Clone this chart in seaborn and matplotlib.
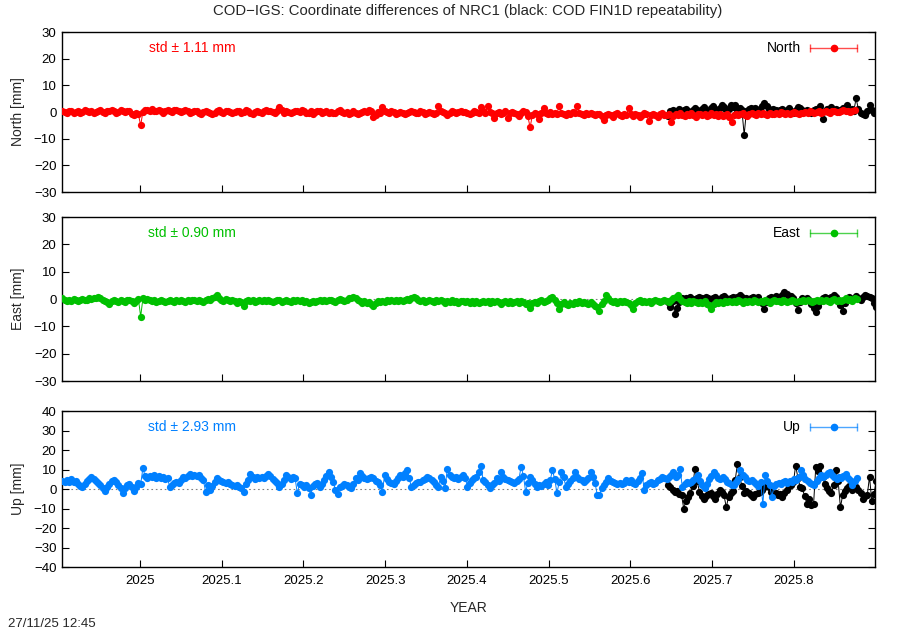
import numpy as np
import pandas as pd
import seaborn as sns
import matplotlib.pyplot as plt

# daily coordinate differences COD-IGS [mm], first day 2024.905
north = [0.3,0.1,-0.4,0.2,0.5,-0.2,0.0,0.4,-0.3,0.1,0.6,0.2,-0.1,0.3,-0.5,0.0,0.4,0.7,0.1,-0.2,0.3,0.5,0.9,0.2,-0.3,0.1,0.6,0.3,-0.1,0.4,
         0.2,-0.6,-1.2,-0.4,-0.9,-5.0,0.1,0.6,0.9,0.4,1.0,0.5,0.2,0.7,0.3,-0.2,0.5,0.8,0.3,0.1,0.6,0.9,0.4,0.0,0.3,0.7,0.2,-0.3,0.1,0.5,
         0.2,-0.2,-0.6,0.0,0.4,0.1,-0.3,-0.8,-0.2,0.3,0.6,0.1,-0.4,0.2,0.5,0.0,-0.5,-0.1,0.4,0.2,-0.3,0.1,0.6,0.3,-0.2,-0.6,0.0,0.4,0.1,-0.3,
         0.2,0.6,0.3,0.5,0.1,-0.3,0.3,1.9,0.7,-0.2,0.4,0.1,-0.5,0.0,0.5,0.3,-0.1,0.6,0.2,-0.4,-0.2,0.2,-0.6,0.1,0.5,0.2,-0.3,0.0,0.4,-0.2,
         -0.1,-0.5,-0.2,0.3,0.6,0.1,-0.4,0.0,-0.7,-0.2,0.2,-0.3,-0.8,-0.4,0.1,0.4,0.0,0.9,0.2,-2.0,-1.2,-0.1,-0.4,1.8,0.5,0.1,-0.3,0.2,-0.1,-0.6,
         -0.3,0.1,-0.2,-0.7,-0.4,0.0,0.3,-0.1,-0.5,-0.2,0.2,-0.1,-0.6,-0.3,0.1,-0.4,-0.8,-0.2,2.3,0.4,0.1,-0.3,-1.0,-0.5,0.2,-0.1,-0.4,0.0,0.5,0.1,
         0.1,-0.3,-0.7,-0.2,0.3,0.0,-0.4,1.7,0.2,-0.2,2.1,-0.1,-0.5,-2.4,-0.3,0.0,-0.6,-0.2,0.3,-2.2,-0.4,0.1,-0.3,-0.8,-1.5,-0.5,0.2,-0.1,-1.6,-5.8,
         -1.2,-0.4,-0.9,-2.5,-0.2,1.4,-0.3,-0.6,-0.1,-0.8,-0.3,-0.6,2.2,-0.2,-0.7,-1.1,-0.4,-0.8,0.1,-0.5,2.3,-0.2,-0.6,-1.2,-0.5,-0.9,-0.3,-0.8,-1.3,-0.6,
         -0.8,-1.5,-3.0,-1.2,-0.6,-1.0,-1.8,-0.9,-0.4,-1.1,-1.5,-0.7,-1.3,1.4,-0.8,-1.4,-0.6,-1.0,-1.7,-1.2,-0.5,-0.9,-3.4,-1.1,-0.6,-1.3,-1.8,-0.8,-0.3,-1.0,
         -1.2,-0.7,-3.8,-1.5,-0.9,-1.3,-0.4,-1.0,-1.6,-0.8,-1.2,-0.5,-1.1,-1.7,-0.9,-0.6,-1.3,-0.8,-1.5,-1.0,-0.4,-1.2,-0.7,-1.4,-0.9,-1.6,-1.1,-0.6,-1.8,-3.6,
         -1.0,-0.6,-1.3,-0.8,-0.4,-1.1,-1.5,-0.7,-0.3,-0.9,-1.2,-0.5,-0.8,-0.2,-0.7,-1.0,-0.4,-0.6,-0.9,-0.3,-0.7,-0.1,-0.5,-0.8,-0.2,-0.6,-0.3,0.1,-0.4,-0.7,
         -0.2,-0.5,0.0,-0.3,0.2,-0.1,-0.4,0.1,0.3,-0.2,0.0,0.4,0.1,-0.3,0.2,0.5,0.1,-0.1,0.3,0.6,0.2,0.4,0.0,0.3,0.7]

east = [0.4,-0.3,-0.8,-0.2,-0.6,0.1,-0.4,-0.9,-0.3,0.0,
        -0.5,-0.2,0.3,-0.1,0.5,0.2,0.9,0.4,-0.2,-0.7,
        -1.2,-2.0,-0.8,-0.3,-0.6,-1.0,-0.4,-0.7,-1.1,-0.5,
        -0.2,-0.8,-1.3,-0.6,-0.1,-6.4,0.2,-0.3,0.1,-0.5,
        -0.9,-0.4,-1.1,-0.6,-0.2,-0.7,-1.2,-0.8,-0.3,-0.6,
        -1.0,-0.5,-0.9,-0.3,-0.6,-1.1,-0.4,-0.8,-0.2,-0.5,
        -0.9,-0.3,-0.7,-1.2,-0.5,-0.1,-0.4,0.2,0.6,1.3,
        0.5,-0.2,-0.6,-0.1,-0.5,-0.9,-0.4,-0.8,-1.3,-0.6,
        -1.1,-2.7,-0.8,-0.4,-0.9,-0.5,-1.0,-0.6,-0.2,-0.7,
        -0.4,-0.8,-0.3,-0.9,-1.2,-0.6,-0.2,-0.5,-1.0,-0.7,
        -0.3,-0.6,-1.1,-0.5,-0.8,-0.4,-0.9,-0.5,-1.2,-0.8,
        -1.4,-1.0,-0.6,-1.1,-0.7,-0.3,-0.8,-0.4,-0.9,-0.5,
        -0.2,-0.6,-1.0,-0.5,-0.1,-0.4,-0.8,-0.3,0.3,0.5,
        0.9,0.3,-0.4,-0.8,-1.3,-0.7,-1.5,-1.1,-1.9,-2.7,
        -1.4,-0.8,-1.2,-0.6,-1.0,-0.5,-0.9,-0.4,-0.8,-0.3,
        -0.6,-0.2,-0.7,-0.3,0.1,-0.4,0.3,0.9,0.2,-0.3,
        -0.7,-0.4,-1.0,-0.6,-0.2,-0.7,-1.1,-0.5,-0.9,-0.4,
        -0.8,-1.3,-0.7,-1.0,-0.5,-1.2,-0.8,-1.4,-0.9,-0.6,
        -1.1,-0.7,-1.5,-0.9,-1.3,-0.8,-1.6,-1.0,-0.6,-1.2,
        -0.8,-1.4,-0.9,-1.2,-0.7,-1.1,-1.7,-1.0,-0.6,-1.3,
        -0.9,-1.5,-1.1,-0.7,-1.3,-0.8,-1.2,-1.9,-1.4,-3.1,
        -1.6,-1.0,-1.4,-0.8,-0.5,-1.1,-0.6,-0.2,0.4,0.9,
        -0.4,-1.5,-3.6,-1.8,-1.2,-1.7,-2.2,-1.3,-1.8,-1.0,
        -1.5,-0.9,-1.4,-1.0,-1.6,-2.0,-1.2,-1.7,-2.4,-3.0,
        -4.2,-1.8,-0.9,1.3,0.2,-0.6,-1.1,-0.7,-1.3,-0.8,
        -1.2,-0.6,-1.0,-1.5,-2.1,-3.6,-1.4,-0.9,-0.5,-1.0,
        -0.6,-1.1,-0.7,-1.3,-0.9,-0.4,-0.8,-1.2,-0.6,-0.3,
        -0.7,-1.0,-0.5,0.2,0.7,1.3,-0.1,-0.6,-1.0,-1.4,
        -0.9,-1.3,-0.8,-1.2,-1.6,-1.0,-1.4,-0.9,-1.7,-2.3,
        -3.6,-1.8,-1.2,-1.6,-1.0,-1.3,-0.8,-1.2,-0.7,-1.1,
        -0.6,-1.0,-0.5,-0.9,-1.3,-0.8,-1.1,-0.6,-1.0,-0.4,
        -0.8,-1.2,-0.7,-1.1,-0.5,-0.9,-1.3,-0.8,-0.4,-0.9,
        -0.6,-1.0,-0.5,-0.8,-1.2,-0.7,-0.3,-0.8,-1.1,-0.6,
        -0.9,-0.4,-0.8,-0.3,-0.7,-1.1,-0.6,-0.2,-0.7,-0.4,
        -0.8,-0.3,-0.6,-1.0,-0.5,-0.1,-0.6,-0.3,-0.7,-0.2,
        0.2,-0.4,-0.1,-0.6,0.3,0.1]

up = [4.2,3.6,4.5,3.8,4.9,3.5,4.1,2.8,1.6,1.0,
      2.4,3.9,5.2,6.1,5.0,4.2,3.1,1.8,0.6,-0.9,
      0.8,2.5,3.9,4.8,3.6,2.2,0.5,-1.8,0.3,1.9,
      2.6,1.2,-0.8,0.9,3.1,2.4,10.8,6.5,5.8,6.9,
      6.2,7.1,5.6,6.8,5.9,6.4,5.1,5.5,1.0,2.3,
      3.2,3.6,2.9,4.5,6.0,5.4,6.8,7.7,6.9,7.3,
      6.5,7.0,5.8,4.6,-1.3,2.0,-0.5,1.6,3.8,5.5,
      4.8,4.0,3.6,2.9,3.5,2.8,2.1,1.4,2.0,0.9,
      0.5,-1.3,2.6,4.8,7.7,6.2,5.3,6.0,5.5,6.4,
      5.9,6.8,7.7,6.6,5.2,4.1,3.3,1.0,2.7,4.5,
      7.0,6.1,5.2,6.0,5.4,-2.0,2.8,1.9,1.0,2.3,
      0.7,-3.0,1.5,2.4,3.2,1.0,2.6,4.5,6.8,8.5,
      6.0,3.6,-0.3,-2.5,0.8,1.6,2.7,2.0,1.1,0.3,
      2.4,5.5,4.6,8.0,6.7,5.5,4.9,5.8,6.3,5.4,
      4.2,3.4,2.1,-1.3,7.2,5.0,3.8,2.9,2.7,4.1,
      5.8,7.0,6.2,8.1,9.5,5.4,1.0,2.2,3.0,3.6,
      3.6,4.5,5.2,6.3,5.7,4.6,3.4,2.2,1.0,6.3,
      4.1,0.3,10.5,7.2,6.3,5.5,6.0,5.1,6.4,7.0,
      5.9,1.0,3.1,4.7,5.6,6.3,8.5,12.0,4.6,3.4,
      2.1,0.3,1.8,3.2,5.5,4.1,8.5,6.2,5.0,4.6,
      4.0,3.6,2.9,4.2,5.1,11.5,6.8,-1.3,3.0,6.3,
      4.4,2.6,1.0,2.1,1.6,2.7,3.5,2.0,4.8,9.5,
      5.1,-2.0,3.4,8.5,6.0,1.0,2.8,4.1,5.6,8.5,
      6.2,5.0,4.6,3.8,4.4,5.9,8.5,6.1,3.2,-3.0,
      -3.0,0.5,2.0,3.4,5.5,4.3,3.6,2.9,2.7,3.3,
      2.4,3.1,4.6,3.8,4.5,3.2,2.6,3.9,5.4,8.0,
      -0.5,1.8,2.9,3.6,2.5,3.1,4.4,5.2,6.3,5.7,
      4.9,6.1,7.0,8.5,6.2,7.4,10.5,1.0,2.6,3.8,
      3.0,3.6,4.8,5.9,7.0,4.2,1.9,0.3,2.8,5.1,
      6.7,8.5,7.1,5.8,5.0,6.3,5.1,3.8,3.0,2.0,
      2.0,3.5,5.2,9.5,7.0,6.1,4.8,3.9,4.4,3.6,
      2.8,1.5,3.4,-7.7,7.0,4.1,2.2,-4.0,1.3,2.6,
      3.1,2.4,3.6,4.2,3.0,4.1,3.5,5.0,4.6,6.2,
      9.5,7.1,5.3,4.0,3.3,2.6,2.0,4.1,5.5,7.0,
      6.4,7.3,8.0,8.5,7.2,6.1,5.0,6.2,5.5,6.6,
      7.5,5.8,4.4,2.0,3.9,5.5]

# COD FIN1D repeatability [mm], first day 2025.646
north_rep = [-1.6,0.2,0.8,-0.5,0.4,1.1,-0.2,0.6,1.3,0.3,
             -0.4,0.9,1.5,0.7,0.2,1.2,1.8,0.9,0.4,1.6,
             2.1,1.0,0.5,1.4,2.6,1.7,0.8,1.2,2.7,1.9,
             2.8,0.9,1.5,0.6,-8.6,0.4,1.2,1.5,0.8,1.4,
             0.6,1.1,2.2,3.4,2.2,1.0,0.4,1.3,0.7,-0.3,
             0.6,1.1,0.2,0.9,1.6,0.5,-0.2,0.8,2.0,1.4,
             0.7,0.1,0.9,0.4,-0.5,0.6,1.2,0.3,2.2,-2.6,
             0.5,1.1,0.2,2.0,0.7,1.2,0.4,0.9,1.5,0.6,
             2.7,0.8,1.3,0.4,5.1,1.2,-0.3,-0.9,-1.0,0.2,
             2.6,0.8,-0.4,0.5]

east_rep = [-1.2,-3.0,-0.8,-5.3,-3.1,-1.0,0.2,-0.5,0.4,-0.2,
            0.6,0.1,-0.4,0.5,0.9,0.2,-0.3,0.7,0.3,-0.6,
            0.4,0.8,0.1,-0.5,0.6,1.0,0.3,-0.2,0.5,0.9,
            0.2,0.7,1.4,0.8,0.1,0.5,-0.3,0.4,0.9,0.2,
            0.6,-0.8,-1.6,-3.8,-1.1,0.3,0.8,0.2,1.1,0.5,
            0.9,1.5,2.6,1.8,0.7,1.2,0.4,-1.5,-4.0,-1.2,
            0.3,-0.5,0.5,-0.4,-1.8,-3.2,-4.8,-2.5,-0.6,0.2,
            0.7,-0.2,0.4,0.9,1.4,0.6,-0.8,-2.1,-4.2,-1.5,
            0.1,0.6,-0.3,0.5,1.0,0.3,-0.4,0.8,1.3,1.0,
            0.9,0.4,-1.6,-2.8]

up_rep = [2.0,0.8,-0.5,-1.4,-0.8,-2.5,-3.1,-10.0,-6.2,-4.0,
          -2.2,1.5,10.5,4.0,-1.3,-3.6,-5.0,-3.8,-2.5,-2.0,
          -3.4,-5.0,-2.8,-0.5,-1.7,-3.2,-9.4,-4.1,-2.0,-1.2,
          4.6,13.0,6.2,1.5,-2.0,-0.8,-1.9,-3.0,-4.0,-2.6,
          -1.9,-1.3,-0.4,0.8,2.0,0.9,-1.5,-3.0,-2.2,-3.3,
          -2.6,-4.0,-1.8,-0.7,1.4,2.1,3.6,12.0,5.8,1.2,
          0.3,-3.6,-7.5,-5.1,-8.4,-7.9,11.5,9.0,12.0,6.4,
          2.5,0.3,-1.1,-2.0,1.8,9.5,4.0,-9.4,-3.2,-1.0,
          0.3,1.6,-0.5,2.4,1.1,-0.5,-2.0,-5.0,-3.8,-3.0,
          6.3,-6.0,-2.5,4.0]

components = ["North", "East", "Up"]
stds = [1.11, 0.90, 2.93]
colors = ["#ff0000", "#00c000", "#0080ff"]
ylims = [(-30, 30), (-30, 30), (-40, 40)]
start_main = 2024.905
start_rep = 2025.646
xticks = [2025.0, 2025.1, 2025.2, 2025.3, 2025.4, 2025.5, 2025.6, 2025.7, 2025.8]
xlabels = ["2025", "2025.1", "2025.2", "2025.3", "2025.4", "2025.5", "2025.6", "2025.7", "2025.8"]

sns.set_style("ticks")
plt.rcParams["font.family"] = ["Liberation Sans", "DejaVu Sans"]
plt.rcParams["font.size"] = 9.5

fig = plt.figure(figsize=(9, 6.3), dpi=100)
rects = [[0.0689, 0.6952, 0.9033, 0.2540],
         [0.0689, 0.3952, 0.9033, 0.2603],
         [0.0689, 0.1000, 0.9033, 0.2476]]

series = [(north, north_rep), (east, east_rep), (up, up_rep)]

for i, name in enumerate(components):
    ax = fig.add_axes(rects[i])
    vals, rep = series[i]
    df = pd.DataFrame({"year": start_main + np.arange(len(vals)) / 365.25, "mm": vals})
    df_rep = pd.DataFrame({"year": start_rep + np.arange(len(rep)) / 365.25, "mm": rep})

    ax.axhline(0, color="gray", ls=(0, (1.5, 2.5)), lw=0.8, zorder=0)
    sns.lineplot(data=df_rep, x="year", y="mm", color="black", marker="o", markersize=5.2,
                 markeredgewidth=0, lw=0.7, ax=ax, zorder=2)
    sns.lineplot(data=df, x="year", y="mm", color=colors[i], marker="o", markersize=5.2,
                 markeredgewidth=0, lw=0.7, ax=ax, zorder=3)

    ax.set_xlim(2024.9046, 2025.8991)
    ax.set_ylim(*ylims[i])
    ax.set_yticks(np.arange(ylims[i][0], ylims[i][1] + 1, 10))
    ax.set_xticks(xticks)
    ax.set_xticklabels(xlabels)
    ax.tick_params(direction="in", length=5, width=0.8, top=False, right=True,
                   labelsize=9.5, colors="black", pad=6)
    ax.tick_params(axis="y", pad=4)
    for s in ax.spines.values():
        s.set_linewidth(1.0)
        s.set_color("black")
    if i < 2:
        ax.tick_params(labelbottom=False)
        ax.set_xlabel("")
    else:
        ax.set_xlabel("YEAR", fontsize=10, labelpad=10)
    ax.set_ylabel(f"{name} [mm]", fontsize=10, labelpad=6)

    ax.text(0.16, 0.90, f"std \u00b1 {stds[i]:.2f} mm", color=colors[i], transform=ax.transAxes,
            ha="center", va="center", fontsize=10)
    # legend sample drawn as an x-errorbar
    ax.text(0.909, 0.90, name, color="black", transform=ax.transAxes, ha="right", va="center", fontsize=10)
    ax.plot([0.920, 0.978], [0.90, 0.90], transform=ax.transAxes, color=colors[i], lw=1, alpha=0.7)
    ax.plot([0.920, 0.978], [0.90, 0.90], transform=ax.transAxes, color=colors[i], lw=0,
            marker="|", markersize=6, alpha=0.7)
    ax.plot([0.949], [0.90], transform=ax.transAxes, color=colors[i], marker="o", markersize=4.5, lw=0)

fig.text(0.52, 0.983, "COD\u2212IGS: Coordinate differences of NRC1 (black: COD FIN1D repeatability)",
         ha="center", va="center", fontsize=10.7)
fig.text(0.009, 0.0, "27/11/25 12:45", ha="left", va="bottom", fontsize=9.5)

fig.savefig("out.png", dpi=100)
